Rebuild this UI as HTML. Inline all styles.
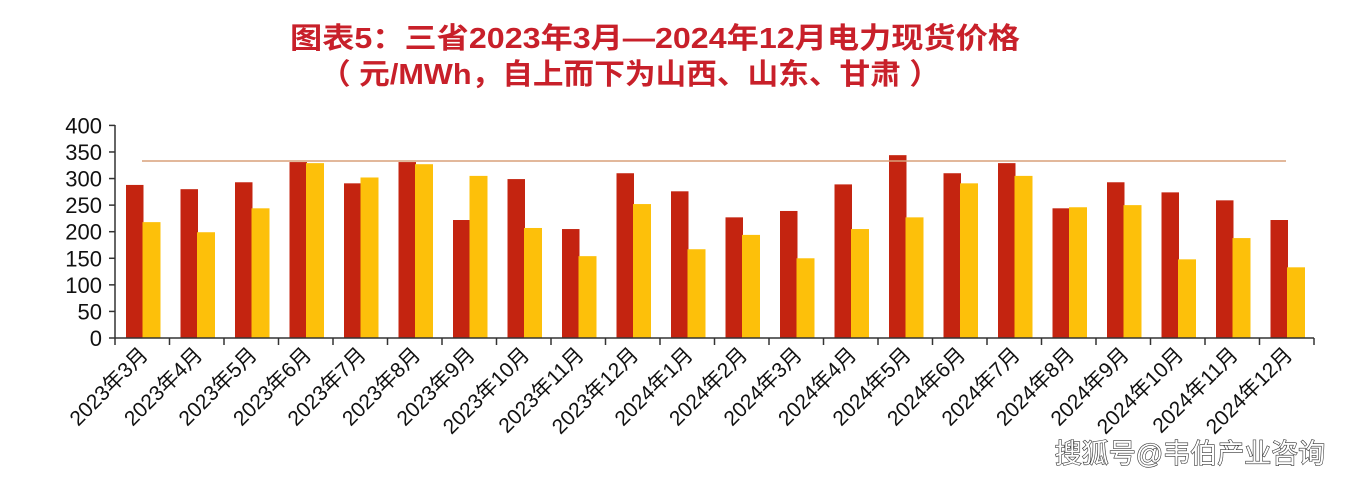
<!DOCTYPE html>
<html><head><meta charset="utf-8"><style>
html,body{margin:0;padding:0;background:#fff;}
svg{display:block;}
text{font-family:"Liberation Sans","Noto Sans CJK SC",sans-serif;}
</style></head><body>
<svg width="1346" height="480" viewBox="0 0 1346 480" xmlns="http://www.w3.org/2000/svg">
<text x="655" y="48" text-anchor="middle" font-size="29" font-weight="bold" fill="#c8202a" textLength="730" lengthAdjust="spacingAndGlyphs">图表5：三省2023年3月—2024年12月电力现货价格</text>
<text x="630" y="84" text-anchor="middle" font-size="29" font-weight="bold" fill="#c8202a" textLength="620" lengthAdjust="spacingAndGlyphs">（ 元/MWh，自上而下为山西、山东、甘肃 ）</text>
<g id="chart"></g>
</svg>
<script>
const red=[288,280,293,331,291,331,222,299,205,310,276,227,239,289,344,310,329,244,293,274,259,222];
const yel=[218,199,244,329,302,327,305,207,154,252,167,194,150,205,227,291,305,246,250,148,188,133];
const labels=["2023年3月","2023年4月","2023年5月","2023年6月","2023年7月","2023年8月","2023年9月","2023年10月","2023年11月","2023年12月","2024年1月","2024年2月","2024年3月","2024年4月","2024年5月","2024年6月","2024年7月","2024年8月","2024年9月","2024年10月","2024年11月","2024年12月"];
const y0=338,k=212.6/400,x0=115,w=54.5;
let s='';
for(let v=0;v<=400;v+=50){const y=y0-v*k;s+=`<text x="102" y="${y+8}" text-anchor="end" font-size="22" fill="#111">${v}</text><line x1="109" y1="${y}" x2="115" y2="${y}" stroke="#333" stroke-width="1.5"/>`;}
for(let i=0;i<22;i++){const gx=x0+i*w;
s+=`<rect x="${gx+11}" y="${y0-red[i]*k}" width="17.5" height="${red[i]*k}" fill="#c42410"/>`;
s+=`<rect x="${gx+27.5}" y="${y0-yel[i]*k}" width="18" height="${yel[i]*k}" fill="#fdc00a"/>`;
const cx=gx+w/2+7;
s+=`<text transform="translate(${cx},356) rotate(-45)" text-anchor="end" font-size="21" fill="#111">${labels[i]}</text>`;}
for(let i=0;i<=22;i++){const gx=x0+i*w;s+=`<line x1="${gx}" y1="${y0}" x2="${gx}" y2="${y0+7}" stroke="#333" stroke-width="1.5"/>`;}
s+=`<line x1="115" y1="125" x2="115" y2="${y0}" stroke="#333" stroke-width="1.5"/>`;
s+=`<line x1="115" y1="${y0}" x2="1314" y2="${y0}" stroke="#333" stroke-width="1.5"/>`;
s+=`<line x1="142" y1="161" x2="1286" y2="161" stroke="#d9a07a" stroke-width="1.5"/>`;
s+=`<text x="1190" y="463" text-anchor="middle" font-size="27" fill="#fff" stroke="#333" stroke-width="1.2" paint-order="stroke">搜狐号@韦伯产业咨询</text>`;
document.getElementById('chart').innerHTML=s;
</script>
</body></html>
